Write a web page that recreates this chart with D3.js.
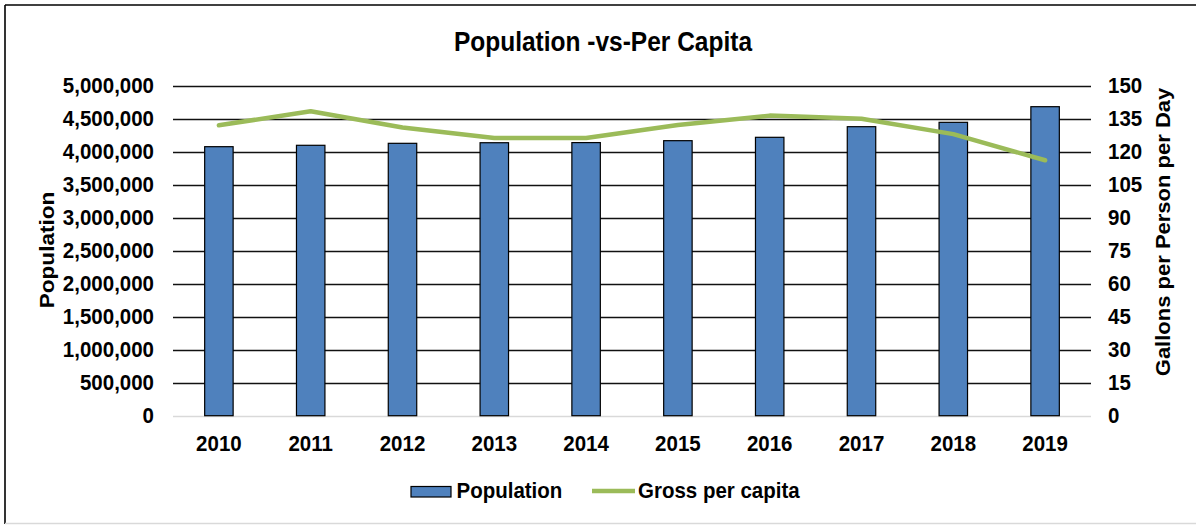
<!DOCTYPE html>
<html>
<head>
<meta charset="utf-8">
<script src="https://cdn.jsdelivr.net/npm/d3@7"></script>
<style>
  html, body { margin: 0; padding: 0; background: #fff; }
  svg { display: block; font-family: "Liberation Sans", Arial, sans-serif; font-weight: bold; }
</style>
</head>
<body>
<svg id="chart" width="1196" height="525"></svg>
<script>
// Annual population and gross per-capita water use
const years = ["2010", "2011", "2012", "2013", "2014", "2015", "2016", "2017", "2018", "2019"];
const population = [4076000, 4097000, 4127000, 4136000, 4138000, 4167000, 4218000, 4379000, 4445000, 4682000];
const grossPerCapita = [132, 138.4, 131, 126.2, 126.2, 132.1, 136.4, 135, 128, 116.1];
const popTicks = [0, 500000, 1000000, 1500000, 2000000, 2500000, 3000000, 3500000, 4000000, 4500000, 5000000];
const gpcdTicks = [0, 15, 30, 45, 60, 75, 90, 105, 120, 135, 150];

const svg = d3.select("#chart");
const W = 1196, H = 525;
const plot = { left: 173, right: 1091, top: 85.7, bottom: 415.7 };
const SY = 1.1; // slightly tall lettering

svg.append("rect").attr("width", W).attr("height", H).attr("fill", "#fff");

// frame
svg.append("line").attr("x1", 5).attr("x2", W).attr("y1", 5).attr("y2", 5)
  .attr("stroke", "#000").attr("stroke-width", 1.6);
svg.append("line").attr("x1", 5).attr("x2", 5).attr("y1", 5).attr("y2", 524)
  .attr("stroke", "#000").attr("stroke-width", 1.6);
svg.append("line").attr("x1", 5).attr("x2", W).attr("y1", 523.5).attr("y2", 523.5)
  .attr("stroke", "#d9d9d9").attr("stroke-width", 1.5);

const x = d3.scaleBand().domain(years).range([plot.left, plot.right]).padding(0);
const yPop = d3.scaleLinear().domain([0, 5000000]).range([plot.bottom, plot.top]);
const yGal = d3.scaleLinear().domain([0, 150]).range([plot.bottom, plot.top]);

function label(text, px, py, size, anchor, rot) {
  return svg.append("text")
    .attr("transform", `translate(${px},${py}) scale(1,${SY})` + (rot ? ` rotate(${rot})` : ""))
    .attr("text-anchor", anchor)
    .attr("font-size", size)
    .attr("fill", "#000")
    .text(text);
}

// gridlines
svg.append("g").selectAll("line").data(popTicks).join("line")
  .attr("x1", plot.left).attr("x2", plot.right)
  .attr("y1", d => Math.round(yPop(d)) + 0.5).attr("y2", d => Math.round(yPop(d)) + 0.5)
  .attr("stroke", d => d === 0 ? "#d9d9d9" : "#111")
  .attr("stroke-width", d => d === 0 ? 1.5 : 1.3);

// left axis
const leftAxis = svg.append("g").attr("transform", `translate(${plot.left},0)`)
  .call(d3.axisLeft(yPop).tickValues(popTicks).tickSize(0).tickPadding(19).tickFormat(d3.format(",")));
leftAxis.select(".domain").remove();
leftAxis.selectAll("text").attr("font-size", 20.5).attr("font-family", null).attr("fill", "#000")
  .attr("transform", `scale(1,${SY})`);

// right axis
const rightAxis = svg.append("g").attr("transform", `translate(${plot.right},0)`)
  .call(d3.axisRight(yGal).tickValues(gpcdTicks).tickSize(0).tickPadding(17));
rightAxis.select(".domain").remove();
rightAxis.selectAll("text").attr("font-size", 20.5).attr("font-family", null).attr("fill", "#000")
  .attr("transform", `scale(1,${SY})`);

// bars
const barW = x.bandwidth() * 0.31;
svg.append("g").selectAll("rect").data(years).join("rect")
  .attr("x", (d) => x(d) + x.bandwidth() / 2 - barW / 2)
  .attr("y", (d, i) => yPop(population[i]))
  .attr("width", barW)
  .attr("height", (d, i) => yPop(0) - yPop(population[i]))
  .attr("fill", "#4f81bd")
  .attr("stroke", "#000")
  .attr("stroke-width", 1.2);

// per-capita line
const line = d3.line()
  .x((d, i) => x(years[i]) + x.bandwidth() / 2)
  .y(d => yGal(d));
svg.append("path").datum(grossPerCapita)
  .attr("d", line)
  .attr("fill", "none")
  .attr("stroke", "#9bbb59")
  .attr("stroke-width", 4.5)
  .attr("stroke-linejoin", "round")
  .attr("stroke-linecap", "round");

// category labels
years.forEach(y => label(y, x(y) + x.bandwidth() / 2, 451, 20.5, "middle"));

// titles
label("Population -vs-Per Capita", 603, 50.5, 24.5, "middle");
label("Population", 53.5, 250, 20.5, "middle", -90);
label("Gallons per Person per Day", 1169.5, 232, 20, "middle", -90);

// legend
svg.append("rect").attr("x", 411).attr("y", 486.5).attr("width", 40).attr("height", 10.5)
  .attr("fill", "#4f81bd").attr("stroke", "#000").attr("stroke-width", 1.2);
label("Population", 456.5, 497.5, 20.5, "start");
svg.append("line").attr("x1", 592).attr("x2", 635).attr("y1", 491).attr("y2", 491)
  .attr("stroke", "#9bbb59").attr("stroke-width", 4.5);
label("Gross per capita", 638, 497.5, 20.5, "start");
</script>
</body>
</html>
